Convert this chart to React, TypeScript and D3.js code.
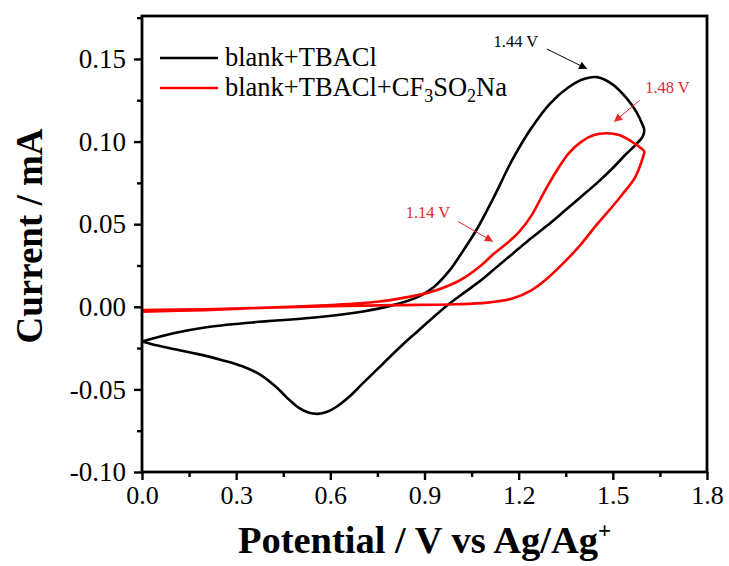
import React, { useRef, useEffect } from 'react';
import * as d3 from 'd3';

// axis ticks
const xTickValues = [0, 0.3, 0.6, 0.9, 1.2, 1.5, 1.8];
const yTickValues = [-0.1, -0.05, 0, 0.05, 0.1, 0.15];

// blank+TBACl : forward scan then reverse scan (V, mA)
const blankPotential = [
  0.0, 0.1, 0.2, 0.35, 0.55, 0.7, 0.8, 0.88, 0.93, 0.98, 1.02, 1.07, 1.12, 1.18, 1.24, 1.3, 1.36, 1.41, 1.45, 1.5,
  1.545, 1.575, 1.595, 1.6,
  1.595, 1.575, 1.54, 1.5, 1.45, 1.395, 1.34, 1.29, 1.23, 1.18, 1.13, 1.08, 1.03, 0.98, 0.93, 0.88, 0.83, 0.77,
  0.7, 0.66, 0.62, 0.59, 0.56, 0.53, 0.5, 0.47, 0.43, 0.38, 0.32, 0.25, 0.175, 0.1, 0.05, 0.0,
];
const blankCurrent = [
  -0.021, -0.016, -0.0125, -0.0095, -0.0065, -0.003, 0.001, 0.006, 0.012, 0.022, 0.033, 0.048, 0.066, 0.089, 0.108,
  0.123, 0.133, 0.138, 0.139, 0.1345, 0.126, 0.118, 0.11, 0.107,
  0.103, 0.0985, 0.092, 0.084, 0.075, 0.066, 0.057, 0.049, 0.04, 0.032, 0.024, 0.016, 0.009, 0.002, -0.006, -0.0145,
  -0.023, -0.034, -0.047, -0.0545, -0.0605, -0.0635, -0.0648, -0.064, -0.0612, -0.0565, -0.049, -0.0415, -0.036,
  -0.032, -0.0285, -0.0255, -0.0235, -0.021,
];

// blank+TBACl+CF3SO2Na
const mixPotential = [
  0.0, 0.2, 0.4, 0.6, 0.75, 0.85, 0.92, 0.98, 1.03, 1.08, 1.12, 1.16, 1.2, 1.24, 1.28, 1.32, 1.36, 1.4, 1.44, 1.48,
  1.52, 1.56, 1.59, 1.6,
  1.595, 1.57, 1.53, 1.5, 1.45, 1.395, 1.34, 1.29, 1.24, 1.18, 1.1, 1.0, 0.8, 0.6, 0.4, 0.2, 0.0,
];
const mixCurrent = [
  -0.003, -0.002, -0.0005, 0.001, 0.003, 0.006, 0.009, 0.013, 0.018, 0.025, 0.032, 0.038, 0.045, 0.055, 0.069, 0.082,
  0.093, 0.1, 0.104, 0.105, 0.104, 0.1, 0.096, 0.094,
  0.09, 0.078, 0.068, 0.061, 0.05, 0.037, 0.026, 0.017, 0.01, 0.005, 0.0025, 0.0015, 0.001, 0.0003, -0.0005,
  -0.0015, -0.002,
];

const seriesNames = ['blank+TBACl', 'blank+TBACl+CF3SO2Na'];
const seriesColors = ['#000000', '#ff0000'];
const peakLabels = ['1.44 V', '1.48 V', '1.14 V'];

const W = 729;
const H = 566;
const serif = '"Times New Roman", "Liberation Serif", serif';

const App = () => {
  const ref = useRef<SVGSVGElement>(null);

  useEffect(() => {
    const svg = d3.select(ref.current);
    svg.selectAll('*').remove();

    const left = 142, right = 707, top = 16, bottom = 472;
    const x = d3.scaleLinear().domain([0, 1.8]).range([left, right]);
    const y = d3.scaleLinear().domain([-0.1, 0.176]).range([bottom, top]);

    const defs = svg.append('defs');
    [['arrow-black', '#000000'], ['arrow-red', '#e8262b']].forEach(([id, c]) => {
      defs.append('marker')
        .attr('id', id)
        .attr('viewBox', '0 0 10 10')
        .attr('refX', 10)
        .attr('refY', 5)
        .attr('markerWidth', 11)
        .attr('markerHeight', 8)
        .attr('markerUnits', 'userSpaceOnUse')
        .attr('orient', 'auto')
        .append('path')
        .attr('d', 'M0,0 L10,5 L0,10 Z')
        .attr('fill', c);
    });

    // curves
    const line = d3.line<[number, number]>()
      .x(d => x(d[0]))
      .y(d => y(d[1]))
      .curve(d3.curveCatmullRom.alpha(0.5));

    const blank = blankPotential.map((v, i) => [v, blankCurrent[i]] as [number, number]);
    const mix = mixPotential.map((v, i) => [v, mixCurrent[i]] as [number, number]);

    [blank, mix].forEach((pts, i) => {
      svg.append('path')
        .datum(pts)
        .attr('fill', 'none')
        .attr('stroke', seriesColors[i])
        .attr('stroke-width', 2.6)
        .attr('stroke-linejoin', 'round')
        .attr('d', line);
    });

    // axes
    const styleAxis = (g: any, size: number) => {
      g.select('.domain').remove();
      g.selectAll('line').attr('stroke', '#000').attr('stroke-width', 2.4);
      g.selectAll('text')
        .style('font-family', serif)
        .style('font-size', `${size}px`)
        .attr('fill', '#000');
    };

    svg.append('g')
      .attr('transform', `translate(0,${bottom})`)
      .call(d3.axisBottom(x).tickValues(xTickValues).tickSize(8).tickPadding(6).tickFormat(d => (+d).toFixed(1)))
      .call(styleAxis, 26);
    svg.append('g')
      .attr('transform', `translate(0,${bottom})`)
      .call(d3.axisBottom(x).tickValues(xTickValues.slice(1).map(v => v - 0.15)).tickSize(5).tickFormat(() => ''))
      .call(styleAxis, 26);

    svg.append('g')
      .attr('transform', `translate(${left},0)`)
      .call(d3.axisLeft(y).tickValues(yTickValues).tickSize(8).tickPadding(8)
        .tickFormat(d => (+d < 0 ? '-' : '') + Math.abs(+d).toFixed(2)))
      .call(styleAxis, 27);
    svg.append('g')
      .attr('transform', `translate(${left},0)`)
      .call(d3.axisLeft(y).tickValues(yTickValues.map(v => v + 0.025)).tickSize(5).tickFormat(() => ''))
      .call(styleAxis, 27);

    // frame
    svg.append('rect')
      .attr('x', left)
      .attr('y', top)
      .attr('width', right - left)
      .attr('height', bottom - top)
      .attr('fill', 'none')
      .attr('stroke', '#000')
      .attr('stroke-width', 2.8);

    // axis titles
    const xt = svg.append('text')
      .attr('x', (left + right) / 2)
      .attr('y', 553)
      .attr('text-anchor', 'middle')
      .style('font-family', serif)
      .style('font-weight', 'bold')
      .style('font-size', '38.5px')
      .text('Potential / V vs Ag/Ag');
    xt.append('tspan').attr('dy', -15).style('font-size', '23px').text('+');

    svg.append('text')
      .attr('transform', `translate(42,236) rotate(-90)`)
      .attr('text-anchor', 'middle')
      .style('font-family', serif)
      .style('font-weight', 'bold')
      .style('font-size', '37px')
      .text('Current / mA');

    // legend
    const legendY = [58, 88];
    seriesNames.forEach((name, i) => {
      svg.append('line')
        .attr('x1', 160).attr('x2', 218)
        .attr('y1', legendY[i]).attr('y2', legendY[i])
        .attr('stroke', seriesColors[i])
        .attr('stroke-width', 2.6);
      const t = svg.append('text')
        .attr('x', 225)
        .attr('y', legendY[i] + 8)
        .style('font-family', serif)
        .style('font-size', '26.5px');
      if (i === 0) {
        t.text(name);
      } else {
        t.append('tspan').text('blank+TBACl+CF');
        t.append('tspan').attr('dy', 6).style('font-size', '18px').text('3');
        t.append('tspan').attr('dy', -6).text('SO');
        t.append('tspan').attr('dy', 6).style('font-size', '18px').text('2');
        t.append('tspan').attr('dy', -6).text('Na');
      }
    });

    // peak annotations (data coordinates)
    const notes = [
      { label: peakLabels[0], color: '#000000', marker: 'arrow-black', tx: 1.12, ty: 0.157, from: [1.29, 0.156], to: [1.418, 0.144] },
      { label: peakLabels[1], color: '#e8262b', marker: 'arrow-red', tx: 1.603, ty: 0.1295, from: [1.586, 0.125], to: [1.504, 0.112] },
      { label: peakLabels[2], color: '#e8262b', marker: 'arrow-red', tx: 0.84, ty: 0.054, from: [1.007, 0.0516], to: [1.118, 0.0395] },
    ];
    notes.forEach(n => {
      svg.append('text')
        .attr('x', x(n.tx))
        .attr('y', y(n.ty))
        .style('font-family', serif)
        .style('font-size', '16.5px')
        .attr('fill', n.color)
        .text(n.label);
      svg.append('line')
        .attr('x1', x(n.from[0])).attr('y1', y(n.from[1]))
        .attr('x2', x(n.to[0])).attr('y2', y(n.to[1]))
        .attr('stroke', n.color)
        .attr('stroke-width', 1)
        .attr('marker-end', `url(#${n.marker})`);
    });
  }, []);

  return (
    <div style={{ position: 'absolute', left: 0, top: 0 }}>
      <svg ref={ref} width={W} height={H} style={{ display: 'block', background: '#fff' }} />
    </div>
  );
};

export default App;
